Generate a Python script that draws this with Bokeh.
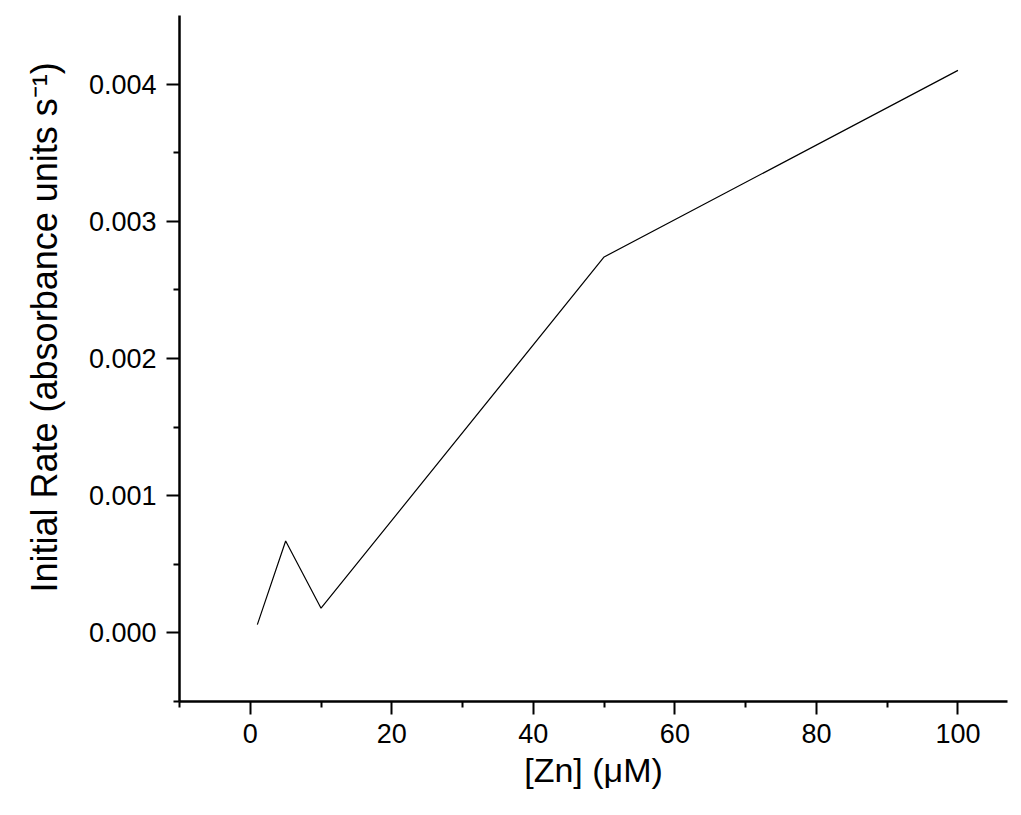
from bokeh.plotting import figure
from bokeh.models import FixedTicker, PrintfTickFormatter, Range1d, Title
from bokeh.embed import file_html
from bokeh.resources import INLINE

zn_uM = [1, 5, 10, 50, 100]
initial_rate = [0.00006, 0.00067, 0.00018, 0.00274, 0.0041]

x_major = [0, 20, 40, 60, 80, 100]
x_minor = [-10, 10, 30, 50, 70, 90]
y_major = [0.0, 0.001, 0.002, 0.003, 0.004]
y_minor = [-0.0005, 0.0005, 0.0015, 0.0025, 0.0035]

x_title = "[Zn] (μM)"
y_title = "Initial Rate (absorbance units s⁻¹)"

FONT = "Liberation Sans"

p = figure(width=1015, height=808, output_backend="svg", toolbar_location=None,
           x_range=Range1d(-10, 107), y_range=Range1d(-0.0005, 0.0045),
           min_border_left=179, min_border_right=8, min_border_top=15, min_border_bottom=107)
p.outline_line_color = None
p.xgrid.visible = False
p.ygrid.visible = False
p.background_fill_color = "white"
p.border_fill_color = "white"

p.line(zn_uM, initial_rate, line_color="black", line_width=1.2)

p.xaxis.ticker = FixedTicker(ticks=x_major, minor_ticks=x_minor)
p.yaxis.ticker = FixedTicker(ticks=y_major, minor_ticks=y_minor)
p.yaxis.formatter = PrintfTickFormatter(format="%.3f")

for ax in (p.xaxis[0], p.yaxis[0]):
    ax.axis_line_width = 2.5
    ax.axis_line_color = "black"
    ax.major_tick_line_width = 2
    ax.minor_tick_line_width = 2
    ax.major_tick_out = 13
    ax.major_tick_in = 0
    ax.minor_tick_out = 6
    ax.minor_tick_in = 0
    ax.major_label_text_font = FONT
    ax.major_label_text_font_size = "27px"
    ax.major_label_text_color = "black"
    ax.axis_label_text_font = FONT
    ax.axis_label_text_font_size = "34px"
    ax.axis_label_text_font_style = "normal"
    ax.axis_label_text_color = "black"

p.xaxis.axis_label = x_title
p.xaxis.major_label_standoff = 9
p.yaxis.major_label_standoff = 10
p.xaxis.axis_label_standoff = 5

ytitle = Title(text=y_title, align="left", offset=109, standoff=42,
               text_font=FONT, text_font_size="36px", text_font_style="normal",
               text_color="black")
p.add_layout(ytitle, "left")

open("out.html", "w").write(file_html(p, INLINE))
